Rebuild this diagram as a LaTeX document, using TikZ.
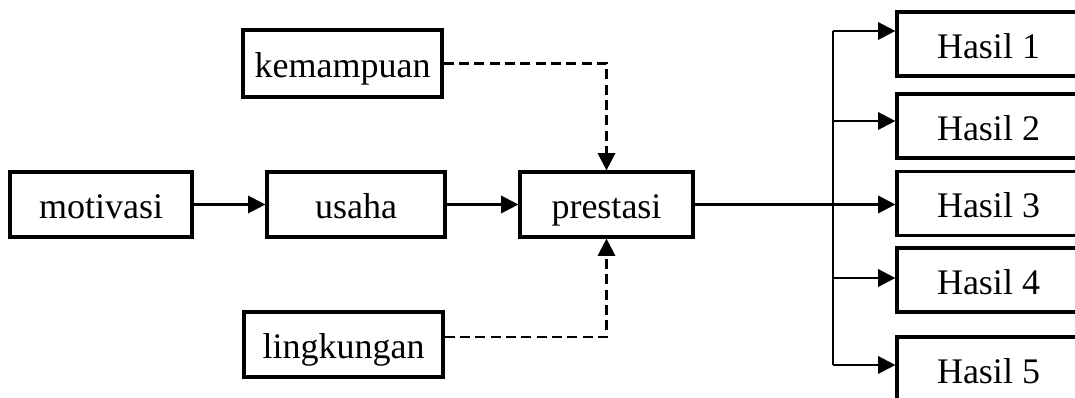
\documentclass[tikz,border=0pt]{standalone}
\usepackage{fontspec}
\setmainfont{Liberation Serif}
\usetikzlibrary{arrows.meta,calc}
\begin{document}
\begin{tikzpicture}[x=0.75pt,y=-0.75pt,
  box/.style={draw,line width=2.4pt,inner sep=0pt,minimum height=48.75pt,text height=21.5pt,text depth=0pt,font=\fontsize{27}{32}\selectfont},
  conn/.style={line width=1.8pt,-{Triangle[length=13pt,width=13pt]}},
  dconn/.style={conn,dash pattern=on 7.5pt off 4pt},
  trunk/.style={line width=1.8pt}
]
\useasboundingbox (0,0) rectangle (1075,398);
\clip (0,0) rectangle (1075,398);

\node[box,minimum width=136.5pt] (mot) at (101,204.5) {motivasi};
\node[box,minimum width=133.5pt] (usa) at (356,204.5) {usaha};
\node[box,minimum width=129.75pt] (pres) at (606.5,204.5) {prestasi};
\node[box,minimum width=149.25pt,minimum height=50.25pt] (kem) at (342.5,63.5) {kemampuan};
\node[box,minimum width=149.25pt] (ling) at (343.5,344.5) {lingkungan};

\node[box,minimum width=137.25pt,minimum height=48pt] (h1) at (988.5,44) {Hasil 1};
\node[box,minimum width=137.25pt,minimum height=48pt] (h2) at (988.5,126) {Hasil 2};
\node[box,minimum width=137.25pt,minimum height=48pt] (h3) at (988.5,203.5) {Hasil 3};
\node[box,minimum width=137.25pt,minimum height=48pt] (h4) at (988.5,280) {Hasil 4};
\node[box,minimum width=137.25pt,minimum height=48pt] (h5) at (988.5,369) {Hasil 5};

\coordinate (j1) at (833,31);
\coordinate (j2) at (833,121);
\coordinate (j4) at (833,278);
\coordinate (j5) at (833,365);

\draw[conn] (mot) -- (usa);
\draw[conn] (usa) -- (pres);
\draw[dconn] (kem.east) -| (pres.north);
\draw[dconn] ([yshift=5.6pt]ling.east) -| (pres.south);

\draw[trunk] (j1) -- (j5);
\draw[conn] (pres.east) -- (pres.east -| h3.west);
\draw[conn] (j1) -- (j1 -| h1.west);
\draw[conn] (j2) -- (j2 -| h2.west);
\draw[conn] (j4) -- (j4 -| h4.west);
\draw[conn] (j5) -- (j5 -| h5.west);
\end{tikzpicture}
\end{document}
